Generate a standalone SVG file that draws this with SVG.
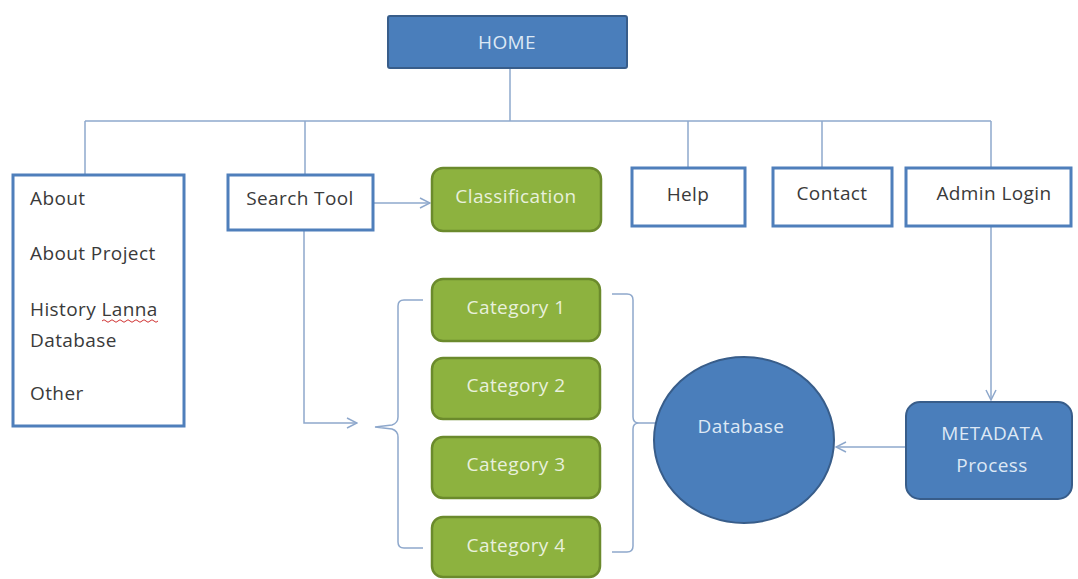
<svg xmlns="http://www.w3.org/2000/svg" width="1078" height="579" viewBox="0 0 1078 579">
<defs>
<style>
.wbox{fill:#fff;stroke:#4f7fbb;stroke-width:3}
.blue{fill:#4a7ebb;stroke:#385d8a;stroke-width:2}
.green{fill:#8db23f;stroke:#6b8a2c;stroke-width:2.5}
.line{fill:none;stroke:#8ea8cc;stroke-width:1.5}
.dark{font-family:"Open Sans","Noto Sans",sans-serif;font-size:19px;letter-spacing:0.4px;fill:#3a3a3a}
.light{font-family:"Open Sans","Noto Sans",sans-serif;font-size:19px;letter-spacing:0.4px;fill:#e8f0dc;text-anchor:middle}
.lightb{font-family:"Open Sans","Noto Sans",sans-serif;font-size:19px;letter-spacing:0.4px;fill:#dde8f5;text-anchor:middle}
</style>
<marker id="arr" viewBox="0 0 12 12" refX="11" refY="6" markerWidth="12" markerHeight="12" markerUnits="userSpaceOnUse" orient="auto">
<path d="M1,1 L11,6 L1,11" fill="none" stroke="#8ea8cc" stroke-width="1.5"/>
</marker>
</defs>
<rect width="1078" height="579" fill="#fff"/>
<g id="connectors">
<path class="line" d="M510,68 V121"/>
<path class="line" d="M85,121 H991"/>
<path class="line" d="M85,121 V175"/>
<path class="line" d="M305,121 V175"/>
<path class="line" d="M688,121 V168"/>
<path class="line" d="M822,121 V168"/>
<path class="line" d="M991,121 V168"/>
<path class="line" d="M373,203 H430" marker-end="url(#arr)"/>
<path class="line" d="M304,230 V423 H357" marker-end="url(#arr)"/>
<path class="line" d="M423,300 H404 Q398,300 398,306 V417 Q398,423 392,425 L375,427 L392,429 Q398,431 398,437 V542 Q398,548 404,548 H423"/>
<path class="line" d="M612,294 H627 Q633,294 633,300 V417 Q633,423 639,423 H655 M639,423 Q633,423 633,429 V546 Q633,552 627,552 H612"/>
<path class="line" d="M991,226 V400" marker-end="url(#arr)"/>
<path class="line" d="M906,447 H836" marker-end="url(#arr)"/>
</g>
<g id="home">
<rect class="blue" x="388" y="16" width="239" height="52" rx="2"/>
<text class="lightb" x="507" y="49">HOME</text>
</g>
<g id="about">
<rect class="wbox" x="13" y="175" width="171" height="251"/>
<text class="dark" x="30" y="205">About</text>
<text class="dark" x="30" y="260">About Project</text>
<text class="dark" x="30" y="316">History Lanna</text>
<path d="M102,321 q2,-2.5 4,0 t4,0 t4,0 t4,0 t4,0 t4,0 t4,0 t4,0 t4,0 t4,0 t4,0 t4,0 t4,0 t4,0" fill="none" stroke="#d03030" stroke-width="1"/>
<text class="dark" x="30" y="347">Database</text>
<text class="dark" x="30" y="400">Other</text>
</g>
<g id="search-tool">
<rect class="wbox" x="228" y="175" width="145" height="55"/>
<text class="dark" x="300" y="205" text-anchor="middle">Search Tool</text>
</g>
<g id="classification">
<rect class="green" x="432" y="168" width="169" height="63" rx="11"/>
<text class="light" x="516" y="203">Classification</text>
</g>
<g id="help">
<rect class="wbox" x="632" y="168" width="113" height="58"/>
<text class="dark" x="688" y="201" text-anchor="middle">Help</text>
</g>
<g id="contact">
<rect class="wbox" x="773" y="168" width="119" height="58"/>
<text class="dark" x="832" y="200" text-anchor="middle">Contact</text>
</g>
<g id="admin-login">
<rect class="wbox" x="906" y="168" width="165" height="58"/>
<text class="dark" x="994" y="200" text-anchor="middle">Admin  Login</text>
</g>
<g id="category-1">
<rect class="green" x="432" y="279" width="168" height="62" rx="11"/>
<text class="light" x="516" y="314">Category 1</text>
</g>
<g id="category-2">
<rect class="green" x="432" y="358" width="168" height="61" rx="11"/>
<text class="light" x="516" y="392">Category 2</text>
</g>
<g id="category-3">
<rect class="green" x="432" y="437" width="168" height="61" rx="11"/>
<text class="light" x="516" y="471">Category 3</text>
</g>
<g id="category-4">
<rect class="green" x="432" y="517" width="168" height="60" rx="11"/>
<text class="light" x="516" y="552">Category 4</text>
</g>
<g id="database">
<ellipse class="blue" cx="744" cy="440" rx="90" ry="83"/>
<text class="lightb" x="741" y="433">Database</text>
</g>
<g id="metadata">
<rect class="blue" x="906" y="402" width="166" height="97" rx="14"/>
<text class="lightb" x="992" y="440">METADATA</text>
<text class="lightb" x="992" y="472">Process</text>
</g>
</svg>
